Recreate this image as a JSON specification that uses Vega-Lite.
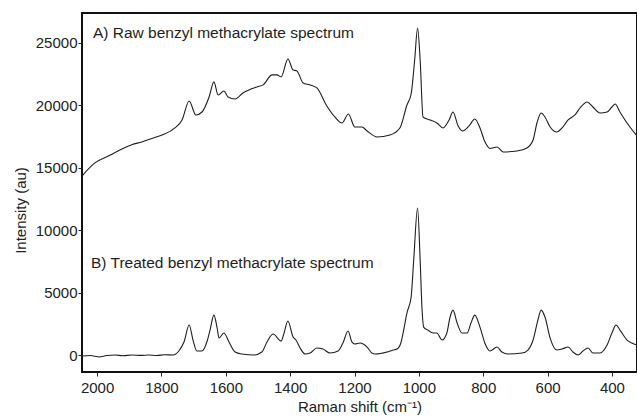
{
  "$schema": "https://vega.github.io/schema/vega-lite/v6.json",
  "width": 555,
  "height": 359,
  "autosize": {"type": "none"},
  "padding": {"left": 82, "top": 13, "right": 0, "bottom": 46},
  "background": "white",
  "config": {
    "view": {"stroke": "#111", "strokeWidth": 2},
    "font": "Liberation Sans",
    "axis": {
      "grid": false,
      "domain": false,
      "tickColor": "#222",
      "tickSize": 4,
      "labelFont": "Liberation Sans",
      "labelFontSize": 15,
      "labelColor": "#222",
      "titleFont": "Liberation Sans",
      "titleFontSize": 15,
      "titleFontWeight": "normal",
      "titleColor": "#222"
    }
  },
  "datasets": {
    "spectra": [
      {"shift": 2047, "intensity": 14340, "series": "A"},
      {"shift": 2007, "intensity": 15390, "series": "A"},
      {"shift": 1960, "intensity": 16000, "series": "A"},
      {"shift": 1923, "intensity": 16510, "series": "A"},
      {"shift": 1892, "intensity": 16850, "series": "A"},
      {"shift": 1861, "intensity": 17070, "series": "A"},
      {"shift": 1830, "intensity": 17350, "series": "A"},
      {"shift": 1798, "intensity": 17630, "series": "A"},
      {"shift": 1758, "intensity": 18190, "series": "A"},
      {"shift": 1736, "intensity": 18830, "series": "A"},
      {"shift": 1714, "intensity": 20350, "series": "A"},
      {"shift": 1693, "intensity": 19230, "series": "A"},
      {"shift": 1674, "intensity": 19470, "series": "A"},
      {"shift": 1652, "intensity": 20670, "series": "A"},
      {"shift": 1637, "intensity": 21880, "series": "A"},
      {"shift": 1624, "intensity": 20830, "series": "A"},
      {"shift": 1606, "intensity": 21150, "series": "A"},
      {"shift": 1593, "intensity": 20670, "series": "A"},
      {"shift": 1571, "intensity": 20510, "series": "A"},
      {"shift": 1547, "intensity": 20990, "series": "A"},
      {"shift": 1503, "intensity": 21480, "series": "A"},
      {"shift": 1484, "intensity": 21640, "series": "A"},
      {"shift": 1456, "intensity": 22440, "series": "A"},
      {"shift": 1441, "intensity": 22440, "series": "A"},
      {"shift": 1428, "intensity": 22280, "series": "A"},
      {"shift": 1407, "intensity": 23720, "series": "A"},
      {"shift": 1391, "intensity": 22840, "series": "A"},
      {"shift": 1379, "intensity": 22760, "series": "A"},
      {"shift": 1360, "intensity": 21800, "series": "A"},
      {"shift": 1338, "intensity": 21640, "series": "A"},
      {"shift": 1317, "intensity": 21400, "series": "A"},
      {"shift": 1286, "intensity": 19950, "series": "A"},
      {"shift": 1261, "intensity": 19070, "series": "A"},
      {"shift": 1239, "intensity": 18590, "series": "A"},
      {"shift": 1219, "intensity": 19310, "series": "A"},
      {"shift": 1199, "intensity": 18270, "series": "A"},
      {"shift": 1177, "intensity": 18270, "series": "A"},
      {"shift": 1161, "intensity": 17950, "series": "A"},
      {"shift": 1130, "intensity": 17470, "series": "A"},
      {"shift": 1090, "intensity": 17630, "series": "A"},
      {"shift": 1059, "intensity": 18190, "series": "A"},
      {"shift": 1037, "intensity": 20030, "series": "A"},
      {"shift": 1024, "intensity": 20910, "series": "A"},
      {"shift": 1013, "intensity": 23640, "series": "A"},
      {"shift": 1004, "intensity": 26200, "series": "A"},
      {"shift": 996, "intensity": 23640, "series": "A"},
      {"shift": 987, "intensity": 19070, "series": "A"},
      {"shift": 965, "intensity": 18830, "series": "A"},
      {"shift": 944, "intensity": 18590, "series": "A"},
      {"shift": 925, "intensity": 18190, "series": "A"},
      {"shift": 906, "intensity": 18830, "series": "A"},
      {"shift": 894, "intensity": 19470, "series": "A"},
      {"shift": 878, "intensity": 18350, "series": "A"},
      {"shift": 863, "intensity": 17950, "series": "A"},
      {"shift": 844, "intensity": 18350, "series": "A"},
      {"shift": 826, "intensity": 18910, "series": "A"},
      {"shift": 810, "intensity": 18190, "series": "A"},
      {"shift": 795, "intensity": 17100, "series": "A"},
      {"shift": 779, "intensity": 16550, "series": "A"},
      {"shift": 757, "intensity": 16670, "series": "A"},
      {"shift": 738, "intensity": 16270, "series": "A"},
      {"shift": 695, "intensity": 16350, "series": "A"},
      {"shift": 664, "intensity": 16590, "series": "A"},
      {"shift": 645, "intensity": 17230, "series": "A"},
      {"shift": 633, "intensity": 18590, "series": "A"},
      {"shift": 620, "intensity": 19390, "series": "A"},
      {"shift": 608, "intensity": 19070, "series": "A"},
      {"shift": 592, "intensity": 18270, "series": "A"},
      {"shift": 571, "intensity": 17870, "series": "A"},
      {"shift": 555, "intensity": 18190, "series": "A"},
      {"shift": 536, "intensity": 18830, "series": "A"},
      {"shift": 515, "intensity": 19230, "series": "A"},
      {"shift": 499, "intensity": 19790, "series": "A"},
      {"shift": 477, "intensity": 20270, "series": "A"},
      {"shift": 459, "intensity": 19870, "series": "A"},
      {"shift": 437, "intensity": 19390, "series": "A"},
      {"shift": 415, "intensity": 19470, "series": "A"},
      {"shift": 400, "intensity": 19870, "series": "A"},
      {"shift": 390, "intensity": 20110, "series": "A"},
      {"shift": 375, "intensity": 19470, "series": "A"},
      {"shift": 353, "intensity": 18590, "series": "A"},
      {"shift": 322, "intensity": 17550, "series": "A"},

      {"shift": 2047, "intensity": -80, "series": "B"},
      {"shift": 2020, "intensity": -40, "series": "B"},
      {"shift": 2007, "intensity": -100, "series": "B"},
      {"shift": 1994, "intensity": -160, "series": "B"},
      {"shift": 1970, "intensity": -40, "series": "B"},
      {"shift": 1944, "intensity": 0, "series": "B"},
      {"shift": 1920, "intensity": -60, "series": "B"},
      {"shift": 1892, "intensity": 0, "series": "B"},
      {"shift": 1865, "intensity": -30, "series": "B"},
      {"shift": 1839, "intensity": 0, "series": "B"},
      {"shift": 1815, "intensity": -40, "series": "B"},
      {"shift": 1789, "intensity": 20, "series": "B"},
      {"shift": 1764, "intensity": 0, "series": "B"},
      {"shift": 1746, "intensity": 320, "series": "B"},
      {"shift": 1730, "intensity": 1040, "series": "B"},
      {"shift": 1714, "intensity": 2400, "series": "B"},
      {"shift": 1702, "intensity": 1200, "series": "B"},
      {"shift": 1690, "intensity": 320, "series": "B"},
      {"shift": 1674, "intensity": 320, "series": "B"},
      {"shift": 1659, "intensity": 1040, "series": "B"},
      {"shift": 1649, "intensity": 2000, "series": "B"},
      {"shift": 1637, "intensity": 3200, "series": "B"},
      {"shift": 1627, "intensity": 2160, "series": "B"},
      {"shift": 1621, "intensity": 1360, "series": "B"},
      {"shift": 1606, "intensity": 1760, "series": "B"},
      {"shift": 1590, "intensity": 1040, "series": "B"},
      {"shift": 1571, "intensity": 240, "series": "B"},
      {"shift": 1550, "intensity": 80, "series": "B"},
      {"shift": 1512, "intensity": 0, "series": "B"},
      {"shift": 1488, "intensity": 240, "series": "B"},
      {"shift": 1472, "intensity": 1040, "series": "B"},
      {"shift": 1453, "intensity": 1680, "series": "B"},
      {"shift": 1428, "intensity": 1120, "series": "B"},
      {"shift": 1419, "intensity": 1760, "series": "B"},
      {"shift": 1407, "intensity": 2720, "series": "B"},
      {"shift": 1391, "intensity": 1440, "series": "B"},
      {"shift": 1382, "intensity": 1200, "series": "B"},
      {"shift": 1369, "intensity": 560, "series": "B"},
      {"shift": 1354, "intensity": 80, "series": "B"},
      {"shift": 1338, "intensity": 160, "series": "B"},
      {"shift": 1317, "intensity": 560, "series": "B"},
      {"shift": 1298, "intensity": 480, "series": "B"},
      {"shift": 1276, "intensity": 160, "series": "B"},
      {"shift": 1251, "intensity": 320, "series": "B"},
      {"shift": 1236, "intensity": 960, "series": "B"},
      {"shift": 1220, "intensity": 1920, "series": "B"},
      {"shift": 1208, "intensity": 1040, "series": "B"},
      {"shift": 1199, "intensity": 880, "series": "B"},
      {"shift": 1183, "intensity": 960, "series": "B"},
      {"shift": 1161, "intensity": 640, "series": "B"},
      {"shift": 1146, "intensity": 160, "series": "B"},
      {"shift": 1136, "intensity": 80, "series": "B"},
      {"shift": 1099, "intensity": 240, "series": "B"},
      {"shift": 1080, "intensity": 400, "series": "B"},
      {"shift": 1068, "intensity": 480, "series": "B"},
      {"shift": 1056, "intensity": 960, "series": "B"},
      {"shift": 1049, "intensity": 1760, "series": "B"},
      {"shift": 1037, "intensity": 3370, "series": "B"},
      {"shift": 1024, "intensity": 4650, "series": "B"},
      {"shift": 1016, "intensity": 7610, "series": "B"},
      {"shift": 1004, "intensity": 11780, "series": "B"},
      {"shift": 996, "intensity": 7610, "series": "B"},
      {"shift": 990, "intensity": 3600, "series": "B"},
      {"shift": 985, "intensity": 2240, "series": "B"},
      {"shift": 972, "intensity": 2000, "series": "B"},
      {"shift": 956, "intensity": 1760, "series": "B"},
      {"shift": 944, "intensity": 1760, "series": "B"},
      {"shift": 928, "intensity": 1200, "series": "B"},
      {"shift": 913, "intensity": 1760, "series": "B"},
      {"shift": 903, "intensity": 3045, "series": "B"},
      {"shift": 894, "intensity": 3600, "series": "B"},
      {"shift": 881, "intensity": 2560, "series": "B"},
      {"shift": 866, "intensity": 1760, "series": "B"},
      {"shift": 850, "intensity": 1760, "series": "B"},
      {"shift": 838, "intensity": 2560, "series": "B"},
      {"shift": 826, "intensity": 3200, "series": "B"},
      {"shift": 810, "intensity": 2240, "series": "B"},
      {"shift": 795, "intensity": 960, "series": "B"},
      {"shift": 779, "intensity": 320, "series": "B"},
      {"shift": 757, "intensity": 640, "series": "B"},
      {"shift": 742, "intensity": 240, "series": "B"},
      {"shift": 723, "intensity": 80, "series": "B"},
      {"shift": 679, "intensity": 160, "series": "B"},
      {"shift": 661, "intensity": 400, "series": "B"},
      {"shift": 645, "intensity": 1200, "series": "B"},
      {"shift": 630, "intensity": 2800, "series": "B"},
      {"shift": 620, "intensity": 3600, "series": "B"},
      {"shift": 608, "intensity": 3045, "series": "B"},
      {"shift": 592, "intensity": 1360, "series": "B"},
      {"shift": 571, "intensity": 400, "series": "B"},
      {"shift": 555, "intensity": 480, "series": "B"},
      {"shift": 536, "intensity": 640, "series": "B"},
      {"shift": 521, "intensity": 240, "series": "B"},
      {"shift": 505, "intensity": 0, "series": "B"},
      {"shift": 490, "intensity": 320, "series": "B"},
      {"shift": 474, "intensity": 560, "series": "B"},
      {"shift": 459, "intensity": 160, "series": "B"},
      {"shift": 437, "intensity": 160, "series": "B"},
      {"shift": 415, "intensity": 800, "series": "B"},
      {"shift": 400, "intensity": 1760, "series": "B"},
      {"shift": 387, "intensity": 2400, "series": "B"},
      {"shift": 375, "intensity": 2000, "series": "B"},
      {"shift": 353, "intensity": 1200, "series": "B"},
      {"shift": 338, "intensity": 960, "series": "B"},
      {"shift": 322, "intensity": 800, "series": "B"}
    ],
    "labels": [
      {"shift": 2013, "intensity": 25800, "label": "A) Raw benzyl methacrylate spectrum"},
      {"shift": 2019, "intensity": 7370, "label": "B) Treated benzyl methacrylate spectrum"}
    ]
  },
  "layer": [
    {
      "data": {"name": "spectra"},
      "mark": {"type": "line", "color": "#1e1e1e", "strokeWidth": 1.1, "interpolate": "monotone", "clip": true},
      "encoding": {
        "x": {
          "field": "shift", "type": "quantitative",
          "scale": {"domain": [322, 2047], "reverse": true, "nice": false, "zero": false},
          "axis": {"values": [2000, 1800, 1600, 1400, 1200, 1000, 800, 600, 400], "format": "d", "labelPadding": 4, "title": "Raman shift (cm⁻¹)", "titlePadding": 4}
        },
        "y": {
          "field": "intensity", "type": "quantitative",
          "scale": {"domain": [-1360, 27400], "nice": false, "zero": false},
          "axis": {"values": [0, 5000, 10000, 15000, 20000, 25000], "format": "d", "labelPadding": 1, "title": "Intensity (au)", "titleY": 197, "titleX": -62, "titleBaseline": "middle"}
        },
        "detail": {"field": "series", "type": "nominal"}
      }
    },
    {
      "data": {"name": "labels"},
      "mark": {"type": "text", "align": "left", "baseline": "middle", "fontSize": 15.5, "font": "Liberation Sans", "color": "#1e1e1e"},
      "encoding": {
        "x": {"field": "shift", "type": "quantitative"},
        "y": {"field": "intensity", "type": "quantitative"},
        "text": {"field": "label", "type": "nominal"}
      }
    }
  ]
}
